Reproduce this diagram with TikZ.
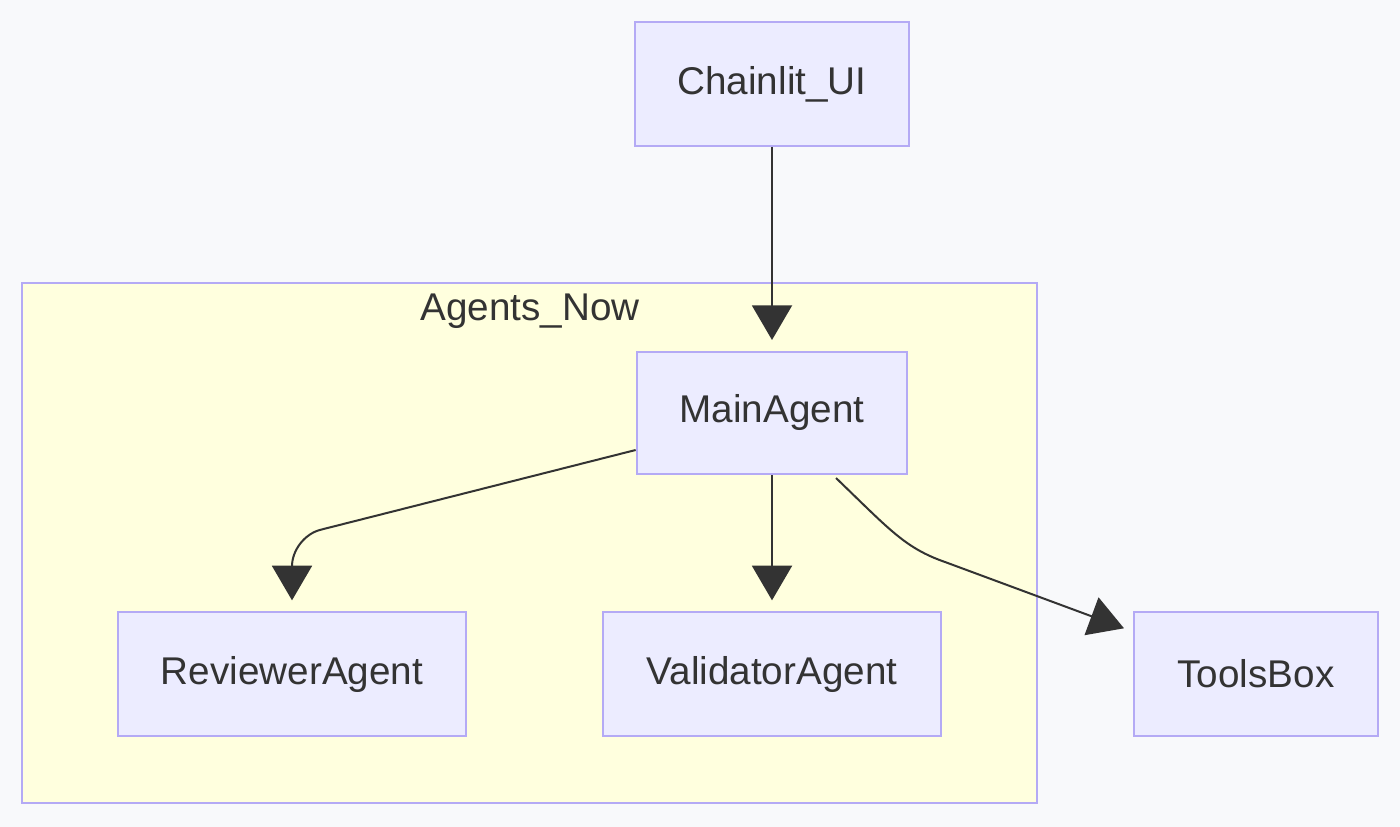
\documentclass[tikz,border=0pt]{standalone}
\usepackage{fontspec}
\setmainfont{Liberation Sans}
\usetikzlibrary{arrows.meta}
\definecolor{bgcol}{RGB}{248,249,251}
\definecolor{nodefill}{RGB}{236,236,255}
\definecolor{nodeline}{RGB}{180,170,245}
\definecolor{clusterfill}{RGB}{255,255,222}
\definecolor{edgecol}{RGB}{51,51,51}
\tikzset{every picture/.style={line width=0.75pt},
  box/.style={draw=nodeline,fill=nodefill,line width=1.5pt,inner sep=0pt,font=\fontsize{29}{34}\selectfont,text=edgecol},
  flow/.style={draw=edgecol,line width=1.5pt,shorten >=8pt,-{Triangle[length=26,width=30]}}}
\begin{document}
\begin{tikzpicture}[x=0.75pt,y=0.75pt,yscale=-1,xscale=1]
\path[fill=bgcol] (0,0) rectangle (1400,827);
\useasboundingbox (0,0) rectangle (1400,827);

%Cluster
\draw [draw=nodeline,fill=clusterfill,line width=1.5pt] (22,283) rectangle (1037,803);
\node (clusterTitle) at (530,311) [font=\fontsize{29}{34}\selectfont,text=edgecol] {Agents\_Now};

%Nodes
\node (chainlit) at (772,84) [box,minimum width=206pt,minimum height=93pt] {Chainlit\_UI};
\node (mainAgent) at (772,413) [box,minimum width=203pt,minimum height=92pt] {MainAgent};
\node (reviewer) at (292,674) [box,minimum width=261pt,minimum height=93pt] {ReviewerAgent};
\node (validator) at (772,674) [box,minimum width=253pt,minimum height=93pt] {ValidatorAgent};
\node (toolsBox) at (1256,674) [box,minimum width=183pt,minimum height=93pt] {ToolsBox};
\coordinate (toolsIn) at (1134,632);

%Edges
\draw [flow] (chainlit) -- (mainAgent);
\draw [flow] (mainAgent) -- (validator);
\draw [flow,rounded corners=22] (mainAgent.west |- 0,450) -- (292,537) -- (reviewer.north);
\draw [flow] (836,478) .. controls (890,530) and (905,548) .. (945,562) -- (toolsIn);
\end{tikzpicture}
\end{document}
